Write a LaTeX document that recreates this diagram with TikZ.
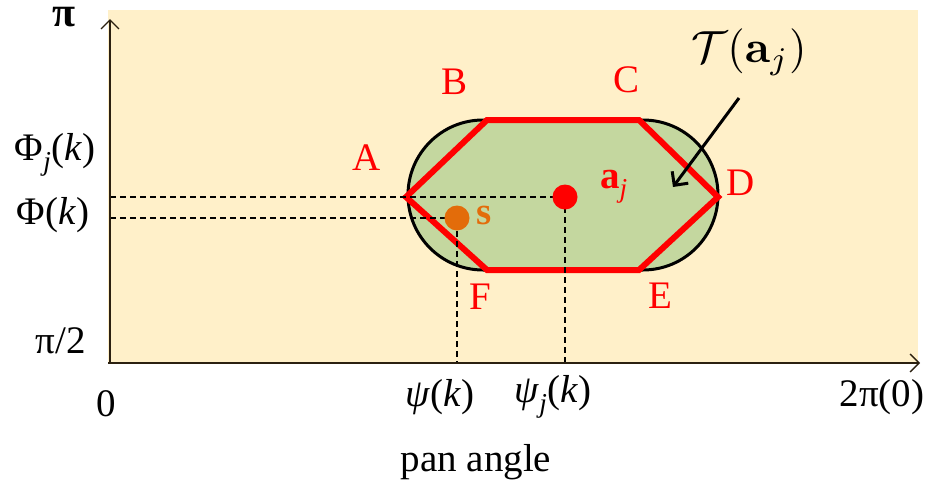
\documentclass[tikz,border=0pt]{standalone}
\usepackage[no-math]{fontspec}
\setmainfont{Liberation Serif}
\usepackage{amsmath}
\usetikzlibrary{arrows.meta}
\definecolor{bgyel}{HTML}{FFF0C9}
\definecolor{grn}{HTML}{C4D79F}
\definecolor{org}{HTML}{E36C0A}
\definecolor{axcol}{HTML}{2B2010}
\begin{document}
\begin{tikzpicture}[x=1pt,y=-1pt,
  lbl/.style={inner sep=0pt, font=\fontsize{39}{44}\selectfont},
  ptlbl/.style={lbl, text=red},
  dsh/.style={black, line width=1.4pt, dash pattern=on 6pt off 4pt},
  axis/.style={axcol, line width=1.5pt, -{Straight Barb[length=9pt,width=18pt,line width=1.3pt]}}]
\useasboundingbox (0,0) rectangle (930,485);
\fill[bgyel] (108,10) rectangle (918,363);
% coordinates
\coordinate (O) at (110,363);
\coordinate (ytop) at (110,19);
\coordinate (xend) at (920,363);
\coordinate (A) at (406,197);
\coordinate (B) at (487,120);
\coordinate (C) at (639,120);
\coordinate (D) at (718,197);
\coordinate (E) at (639,270);
\coordinate (F) at (487,270);
% stadium
\draw[black, line width=3pt, fill=grn] (483,120) -- (643,120)
  arc[start angle=-90, end angle=90, radius=75] -- (483,270)
  arc[start angle=90, end angle=270, radius=75] -- cycle;
% hexagon
\draw[red, line width=6pt, line join=miter] (A) -- (B) -- (C) -- (D) -- (E) -- (F) -- cycle;
% points
\node[circle, minimum size=25pt, inner sep=0pt] (aj) at (565,197) {};
\node[circle, minimum size=25pt, inner sep=0pt] (s) at (457,218) {};
% dashed lines
\coordinate (yl1) at (110,197);
\coordinate (yl2) at (110,218);
\coordinate (xl1) at (457,363);
\coordinate (xl2) at (565,363);
\draw[dsh] (yl1) -- (aj.center);
\draw[dsh] (yl2) -- (s.center) -- (xl1);
\draw[dsh] (aj.center) -- (xl2);
% dots on top of dashes
\fill[red] (aj) circle[radius=12.5pt];
\fill[org] (s) circle[radius=12.5pt];
% axes
\draw[axis] (O) -- (ytop);
\draw[axis] (108,363) -- (xend);
% point labels
\node[ptlbl] (lA) at (367,158) {A};
\node[ptlbl] (lB) at (455,82) {B};
\node[ptlbl] (lC) at (627,80) {C};
\node[ptlbl] (lD) at (741,183) {D};
\node[ptlbl] (lE) at (660,296) {E};
\node[ptlbl] (lF) at (480,297) {F};
\node[lbl, text=red, anchor=base west] (laj) at (600,188) {\textbf{a}\textsubscript{\textit{j}}};
\node[lbl, text=org, anchor=base west] (ls) at (476,224) {\textbf{s}};
% T(a_j)
\node[inner sep=0pt, font=\fontsize{10}{12}\selectfont, scale=4.5] (T) at (749,52) {$\mathcal{T}(\mathbf{a}_j)$};
\coordinate (Tarrow) at (739,98);
\coordinate (Ttip) at (673,187);
\draw[black, line width=3pt, -{Straight Barb[length=10pt,width=20pt,line width=3pt]}] (Tarrow) -- (Ttip);
% axis labels
\node[inner sep=0pt, font=\fontsize{42}{46}\selectfont\bfseries, anchor=base] (pi) at (64,26) {π};
\node[lbl] (phij) at (55,155) {Φ\textsubscript{\textit{j}}(\textit{k})};
\node[lbl] (phi) at (53,215) {Φ(\textit{k})};
\node[lbl] (pi2) at (61,341) {π/2};
\node[lbl] (zero) at (106,404) {0};
\node[lbl] (psi) at (440,397) {\textit{ψ}(\textit{k})};
\node[lbl] (psij) at (553,397) {\textit{ψ}\textsubscript{\textit{j}}(\textit{k})};
\node[lbl] (tpi) at (882,397) {2π(0)};
\node[lbl] (pan) at (476,462) {pan angle};
\end{tikzpicture}
\end{document}
